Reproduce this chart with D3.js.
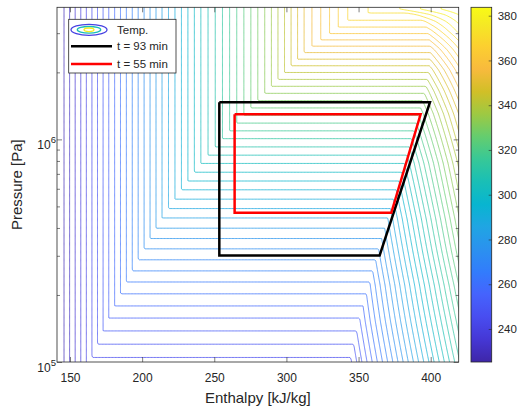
<!DOCTYPE html>
<html>
<head>
<meta charset="utf-8">
<script src="https://cdn.jsdelivr.net/npm/d3@7"></script>
<style>
  body { margin: 0; background: #fff; }
  text { font-family: "Liberation Sans", Arial, Helvetica, sans-serif; fill: #262626; }
</style>
</head>
<body>
<div id="chart"></div>
<script>
// saturation dome (P in Pa, T in K, h in kJ/kg)
const satP  = [0.99e5, 1.51e5, 2.22e5, 3.16e5, 4.39e5, 5.92e5, 7.83e5, 10.18e5, 13.03e5, 16.44e5, 20.49e5, 25.27e5, 30.87e5, 33.9e5, 36.3e5, 38.5e5];
const satT  = [243.15, 253.15, 263.15, 273.15, 283.15, 293.15, 303.15, 313.15, 323.15, 333.15, 343.15, 353.15, 363.15, 367.5, 370.5, 373];
const satHl = [163.6, 175.5, 188.0, 200.6, 213.3, 227.1, 240.9, 256.3, 271.5, 286.3, 300.3, 314.2, 333, 341, 350, 372];
const satHv = [343.8, 350, 357.2, 363.5, 370, 376, 382, 387, 392, 396, 399, 400, 398, 395, 388, 372];
// vapour heat capacity along the dome (kJ/kg/K), from the spacing of the isotherms
const vapCp = [1.1, 1.08, 1.05, 1.03, 1.02, 1.02, 1.03, 1.05, 1.08, 1.12, 1.2, 1.35, 1.7, 2.2, 3.0, 4.4];

// the two cycles
const cycle93H = [253.5, 399.5, 364.6, 253.5, 253.5];
const cycle93P = [1.468e6, 1.468e6, 3.01e5, 3.01e5, 1.468e6];
const cycle55H = [264.1, 393, 372.7, 264.1, 264.1];
const cycle55P = [1.296e6, 1.296e6, 4.68e5, 4.68e5, 1.296e6];

// axes
const xDomain = [141, 419.4];
const yDomain = [1e5, 3.92e6];
const xTicks = [150, 200, 250, 300, 350, 400];
const yMajor = [1e5, 1e6];
const yMinor = [2e5, 3e5, 4e5, 5e5, 6e5, 7e5, 8e5, 9e5, 2e6, 3e6];
const cbLimits = [225.25, 383.75];
const cbTicks = [240, 260, 280, 300, 320, 340, 360, 380];
const levelStep = 3.25;

// parula, every 4th entry of the 64-colour map
const parula = ["#3e26a8", "#4537d5", "#484df0", "#4563fd", "#327cfc", "#2b91ef", "#20a5e3", "#08b5d0",
                "#19bfb6", "#37c897", "#64cd6f", "#9dc943", "#d1bf27", "#f8ba3d", "#fccf30", "#f5e924", "#f9fb15"];
const parulaPos = [0, 4, 8, 12, 16, 20, 24, 28, 32, 36, 40, 44, 48, 52, 56, 60, 63];

const W = 519, H = 406;
const margin = {top: 7.3, right: 60.3, bottom: 44, left: 57};
const pw = 458.7 - margin.left, ph = 362 - margin.top;

const svg = d3.select("#chart").append("svg")
  .attr("width", W).attr("height", H);

const x = d3.scaleLinear().domain(xDomain).range([margin.left, margin.left + pw]);
const y = d3.scaleLog().domain(yDomain).range([margin.top + ph, margin.top]);

const color = d3.scaleLinear()
  .domain(parulaPos.map(p => cbLimits[0] + p / 63 * (cbLimits[1] - cbLimits[0])))
  .range(parula);

// temperature field T(h, log10 P) from the dome arrays
const lp = satP.map(Math.log10);
const tsatOf = d3.scaleLinear().domain(lp).range(satT);
const hlOf = d3.scaleLinear().domain(lp).range(satHl);
const hvOf = d3.scaleLinear().domain(lp).range(satHv);
const cpOf = d3.scaleLinear().domain(lp).range(vapCp).clamp(true);
const tLiq = d3.scaleLinear().domain(satHl).range(satT);
const lpc = lp[lp.length - 1];

function temp(h, logp) {
  if (logp > lpc) logp = lpc;
  const hl = hlOf(logp), hv = hvOf(logp);
  if (h <= hl) return tLiq(h);
  if (h < hv) return tsatOf(logp);
  return tsatOf(logp) + (h - hv) / cpOf(logp);
}

const h0 = 135, dh = 1, nx = 292;
const lp0 = 4.97, dlp = 0.004, ny = 420;
const values = new Array(nx * ny);
for (let j = 0; j < ny; j++)
  for (let i = 0; i < nx; i++)
    values[j * nx + i] = temp(h0 + i * dh, lp0 + j * dlp);

const levels = d3.range(cbLimits[0] + 3.0, cbLimits[1], levelStep);
const contours = d3.contours().size([nx, ny]).thresholds(levels)(values);

const proj = d3.geoTransform({
  point: function(px, py) {
    this.stream.point(x(h0 + (px - 0.5) * dh), y(Math.pow(10, lp0 + (py - 0.5) * dlp)));
  }
});
const path = d3.geoPath(proj);

svg.append("clipPath").attr("id", "clip")
  .append("rect").attr("x", margin.left).attr("y", margin.top).attr("width", pw).attr("height", ph);

svg.append("rect").attr("x", margin.left).attr("y", margin.top).attr("width", pw).attr("height", ph).attr("fill", "#fff");

svg.append("g").attr("clip-path", "url(#clip)")
  .selectAll("path")
  .data(contours)
  .enter()
  .append("path")
    .attr("d", path)
    .attr("fill", "none")
    .attr("stroke", d => color(d.value))
    .attr("stroke-width", 1)
    .attr("stroke-opacity", 0.75);

// cycles
const line = d3.line().x(d => x(d[0])).y(d => y(d[1]));
svg.append("path")
  .attr("d", line(cycle93H.map((h, i) => [h, cycle93P[i]])))
  .attr("fill", "none").attr("stroke", "#000").attr("stroke-width", 2.5).attr("stroke-linejoin", "miter");
svg.append("path")
  .attr("d", line(cycle55H.map((h, i) => [h, cycle55P[i]])))
  .attr("fill", "none").attr("stroke", "#ff0000").attr("stroke-width", 2.5).attr("stroke-linejoin", "miter");

// axes (ticks inward, MATLAB style)
const noDomain = g => g.select(".domain").remove();
svg.append("g").attr("transform", `translate(0,${margin.top + ph})`)
  .call(d3.axisBottom(x).tickValues(xTicks).tickSize(-5).tickPadding(11))
  .call(noDomain)
  .call(g => g.selectAll("text").attr("font-size", 12).style("fill", "#262626"));
svg.append("g").attr("transform", `translate(0,${margin.top})`)
  .call(d3.axisTop(x).tickValues(xTicks).tickSize(-5).tickFormat(""))
  .call(noDomain);

const yLeft = svg.append("g").attr("transform", `translate(${margin.left},0)`)
  .call(d3.axisLeft(y).tickValues(yMajor).tickSize(-5).tickFormat(""))
  .call(noDomain);
svg.append("g").attr("transform", `translate(${margin.left},0)`)
  .call(d3.axisLeft(y).tickValues(yMinor).tickSize(-3).tickFormat(""))
  .call(noDomain);
svg.append("g").attr("transform", `translate(${margin.left + pw},0)`)
  .call(d3.axisRight(y).tickValues(yMajor).tickSize(-5).tickFormat(""))
  .call(noDomain);
svg.append("g").attr("transform", `translate(${margin.left + pw},0)`)
  .call(d3.axisRight(y).tickValues(yMinor).tickSize(-3).tickFormat(""))
  .call(noDomain);
svg.selectAll(".tick line").attr("stroke", "#262626").attr("stroke-width", 0.6);

const yLab = yLeft.selectAll(".tick").append("text")
  .attr("x", -1).attr("y", 9).attr("text-anchor", "end").attr("font-size", 12)
  .style("fill", "#262626");
yLab.append("tspan").text("10");
yLab.append("tspan").attr("dy", -5.5).attr("font-size", 9.5).text(d => Math.round(Math.log10(d)));

// plot box
svg.append("rect").attr("x", margin.left).attr("y", margin.top).attr("width", pw).attr("height", ph)
  .attr("fill", "none").attr("stroke", "#262626").attr("stroke-width", 0.8);

// axis labels
svg.append("text").attr("x", margin.left + pw / 2).attr("y", 403.3).attr("text-anchor", "middle")
  .attr("font-size", 15).text("Enthalpy [kJ/kg]");
svg.append("text").attr("transform", `translate(22,${margin.top + ph / 2}) rotate(-90)`)
  .attr("text-anchor", "middle").attr("font-size", 15).text("Pressure [Pa]");

// colorbar
const cbX = 471, cbW = 20.7;
const cy = d3.scaleLinear().domain(cbLimits).range([margin.top + ph, margin.top]);
const grad = svg.append("defs").append("linearGradient").attr("id", "parula")
  .attr("x1", 0).attr("y1", 1).attr("x2", 0).attr("y2", 0);
grad.selectAll("stop").data(parula).enter().append("stop")
  .attr("offset", (d, i) => parulaPos[i] / 63)
  .attr("stop-color", d => d);
svg.append("rect").attr("x", cbX).attr("y", cy(cbLimits[1])).attr("width", cbW)
  .attr("height", cy(cbLimits[0]) - cy(cbLimits[1])).attr("fill", "url(#parula)")
  .attr("stroke", "#262626").attr("stroke-width", 0.8);
svg.append("g").attr("transform", `translate(${cbX + cbW},0)`)
  .call(d3.axisRight(cy).tickValues(cbTicks).tickSize(-3).tickPadding(6))
  .call(noDomain)
  .call(g => g.selectAll("line").attr("stroke", "#262626").attr("stroke-width", 0.6))
  .call(g => g.selectAll("text").attr("font-size", 11.5).style("fill", "#262626"));

// legend
const lg = svg.append("g");
lg.append("rect").attr("x", 68.7).attr("y", 19.3).attr("width", 107.3).attr("height", 53.7)
  .attr("fill", "#fff").attr("stroke", "#262626").attr("stroke-width", 0.8);
[[18, 5.5, color(240)], [11.7, 3.3, color(305)], [5, 1.8, color(378)]].forEach(e => {
  lg.append("ellipse").attr("cx", 89).attr("cy", 29.8).attr("rx", e[0]).attr("ry", e[1])
    .attr("fill", "none").attr("stroke", e[2]).attr("stroke-width", 1.3);
});
lg.append("text").attr("x", 117).attr("y", 33.7).attr("font-size", 11.5).text("Temp.");
lg.append("line").attr("x1", 71).attr("x2", 112).attr("y1", 46.3).attr("y2", 46.3)
  .attr("stroke", "#000").attr("stroke-width", 2.5);
lg.append("text").attr("x", 117).attr("y", 50.3).attr("font-size", 11.5).text("t = 93 min");
lg.append("line").attr("x1", 71).attr("x2", 112).attr("y1", 64).attr("y2", 64)
  .attr("stroke", "#ff0000").attr("stroke-width", 2.5);
lg.append("text").attr("x", 117).attr("y", 67.7).attr("font-size", 11.5).text("t = 55 min");
</script>
</body>
</html>
